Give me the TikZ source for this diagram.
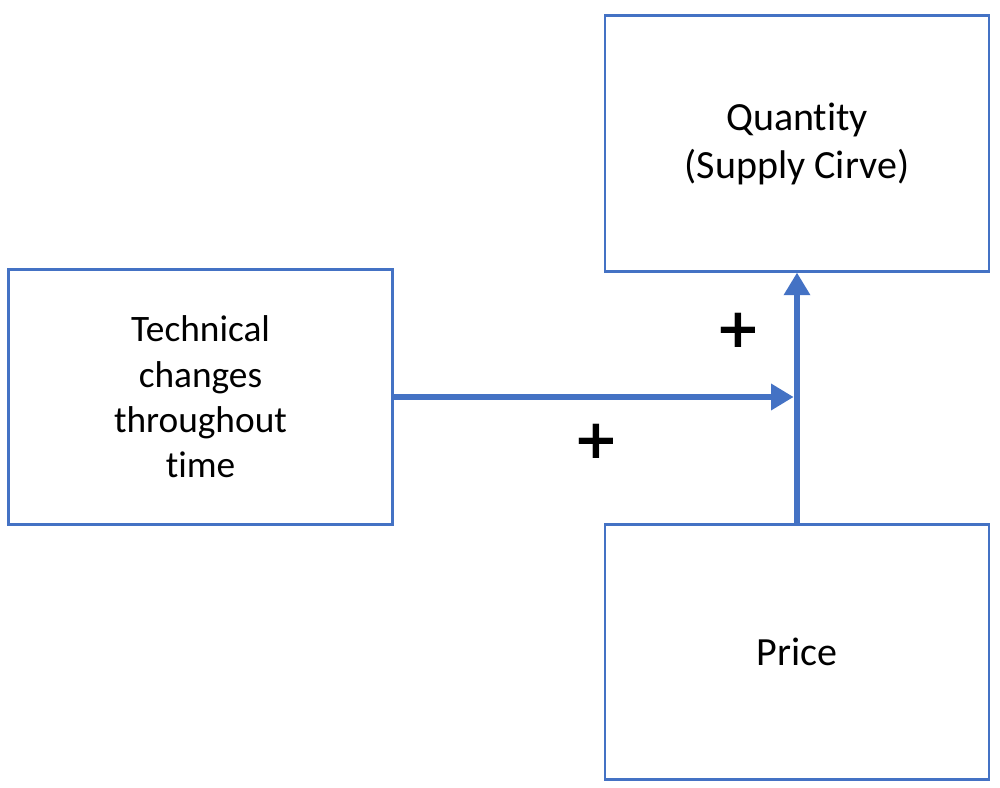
\documentclass[tikz,border=0pt]{standalone}
\usepackage{fontspec}
\setmainfont{Carlito}[Ligatures=NoCommon]
\newfontfamily\plusfont{DejaVu Sans}
\usetikzlibrary{arrows.meta}

\begin{document}
\begin{tikzpicture}[x=0.75pt,y=-0.75pt,
    box/.style={draw=ob, line width=2.1pt, minimum width=288pt, minimum height=191.5pt,
        inner sep=0pt, align=center, font=\fontsize{30}{36}\selectfont},
    link/.style={draw=ob, line width=4.5pt, -{Triangle[width=19pt,length=17pt]}},
    sign/.style={inner sep=0pt, font=\plusfont\bfseries\fontsize{41}{41}\selectfont}]
    % colour and frame %
    \definecolor{ob}{RGB}{68,114,196}
    \useasboundingbox (0,0) rectangle (1000,788);

    % boxes %
    \node[box] (qty) at (797,143.5) {Quantity\\(Supply Cirve)};
    \node[box, font=\fontsize{28}{34}\selectfont] (tech) at (200.5,397) {Technical\\changes\\throughout\\time};
    \node[box] (price) at (797,652) {Price};

    % links and signs %
    \coordinate (meet) at (tech.east -| qty.south);
    \draw[link] (price.north) -- (qty.south);
    \draw[link, shorten >=2.5pt] (tech.east) -- (meet);
    \node[sign] (plusup) at (738,330) {+};
    \node[sign] (pluslow) at (596,441) {+};
\end{tikzpicture}
\end{document}
